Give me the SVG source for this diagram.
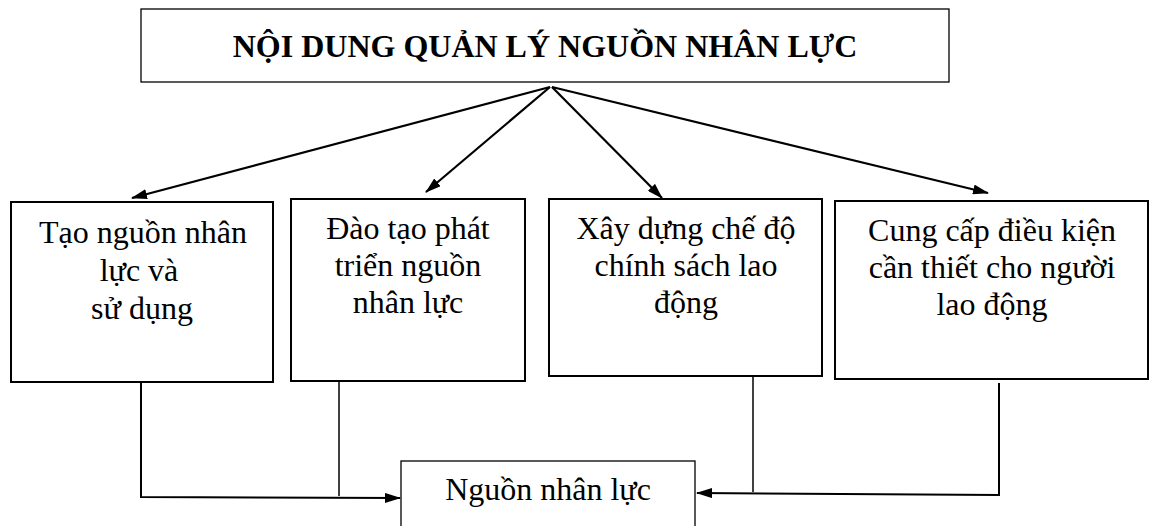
<svg xmlns="http://www.w3.org/2000/svg" width="1150" height="526" viewBox="0 0 1150 526">
  <style>
    .box { fill: #fff; stroke: #000; stroke-width: 2; }
    .thin { fill: #fff; stroke: #000; stroke-width: 1.3; }
    .lbl { font-size: 32px; fill: #000; text-anchor: middle; }
    .title { font-weight: bold; }
    .arrow { fill: none; stroke: #000; stroke-width: 2.2; }
    .link { fill: none; stroke: #000; stroke-width: 2; }
    .link-thin { fill: none; stroke: #000; stroke-width: 1.5; }
  </style>
  <defs>
    <marker id="ah" viewBox="0 0 16 10" refX="15" refY="5" markerWidth="16" markerHeight="10" markerUnits="userSpaceOnUse" orient="auto">
      <path d="M0,0 L16,5 L0,10 z" fill="#000"/>
    </marker>
  </defs>
  <rect width="1150" height="526" fill="#fff"/>

  <g font-family="Liberation Serif, Tinos, Times New Roman, serif">
  <g id="title">
    <rect class="thin" x="141" y="9" width="808" height="73"/>
    <text class="lbl title" x="545" y="57">NỘI DUNG QUẢN LÝ NGUỒN NHÂN LỰC</text>
  </g>

  <g id="node1">
    <rect class="box" x="11" y="202" width="262" height="180"/>
    <text class="lbl" x="143" y="243">Tạo nguồn nhân</text>
    <text class="lbl" x="139" y="281">lực và</text>
    <text class="lbl" x="142" y="319">sử dụng</text>
  </g>

  <g id="node2">
    <rect class="box" x="291" y="199" width="234" height="182"/>
    <text class="lbl" x="408" y="239">Đào tạo phát</text>
    <text class="lbl" x="408" y="276">triển nguồn</text>
    <text class="lbl" x="408" y="313">nhân lực</text>
  </g>

  <g id="node3">
    <rect class="box" x="549" y="199" width="273" height="177"/>
    <text class="lbl" x="686" y="239">Xây dựng chế độ</text>
    <text class="lbl" x="686" y="276">chính sách lao</text>
    <text class="lbl" x="686" y="313">động</text>
  </g>

  <g id="node4">
    <rect class="box" x="835" y="201" width="313" height="178"/>
    <text class="lbl" x="992" y="241">Cung cấp điều kiện</text>
    <text class="lbl" x="992" y="278">cần thiết cho người</text>
    <text class="lbl" x="992" y="315">lao động</text>
  </g>

  <g id="node5">
    <rect class="thin" x="401" y="461" width="294" height="80"/>
    <text class="lbl" x="548" y="500">Nguồn nhân lực</text>
  </g>
  </g>

  <g id="connectors">
    <line class="arrow" x1="550" y1="87" x2="132" y2="198" marker-end="url(#ah)"/>
    <line class="arrow" x1="550" y1="87" x2="426" y2="192" marker-end="url(#ah)"/>
    <line class="arrow" x1="552" y1="87" x2="662" y2="198" marker-end="url(#ah)"/>
    <line class="arrow" x1="552" y1="87" x2="988" y2="193" marker-end="url(#ah)"/>

    <polyline class="link" points="141,382 141,497 400,498" marker-end="url(#ah)"/>
    <line class="link-thin" x1="339" y1="381" x2="339" y2="496"/>
    <polyline class="link" points="999,383 999,495 697,493" marker-end="url(#ah)"/>
    <line class="link-thin" x1="753" y1="376" x2="753" y2="492"/>
  </g>
</svg>
